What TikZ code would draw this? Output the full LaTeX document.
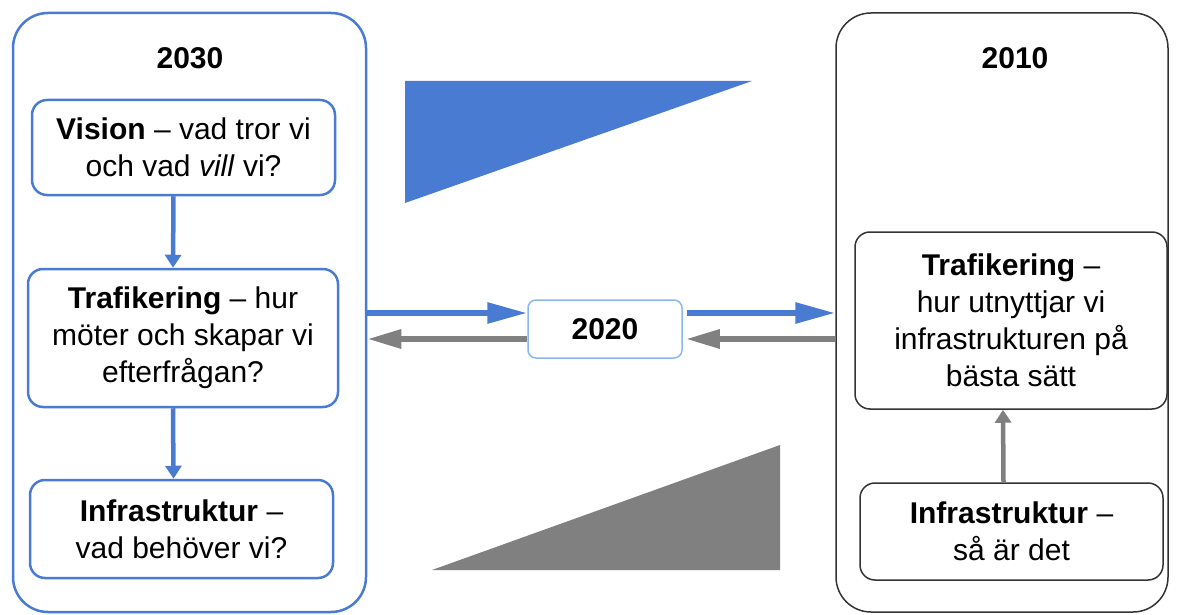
\documentclass[tikz,border=0pt]{standalone}
\usepackage{fontspec}
\setmainfont{Liberation Sans}
\usepackage{tikz}
\usetikzlibrary{arrows.meta}

\definecolor{planblue}{HTML}{4A7BD3}
\definecolor{lightblue}{HTML}{8AB8EE}
\definecolor{planggray}{HTML}{808080}
\definecolor{darkframe}{HTML}{333333}

\begin{document}
\begin{tikzpicture}[x=1pt,y=-1pt,
  txt/.style={font=\fontsize{30}{37}\selectfont,align=center,inner sep=0pt},
  bluebox/.style={txt,draw=planblue,line width=2.5pt,rounded corners=15pt},
  graybox/.style={txt,draw=darkframe,line width=1.5pt,rounded corners=15pt},
  bluearrow/.style={draw=planblue,line width=6pt,-{Triangle[length=40pt,width=20pt]}},
  grayarrow/.style={draw=planggray,line width=6pt,-{Triangle[length=34pt,width=18pt]}},
  downarrow/.style={line width=4.5pt,-{Triangle[length=13pt,width=16pt]}}]
  \useasboundingbox (0,0) rectangle (1181,615);

  %frames
  \node[draw=planblue,line width=2.5pt,rounded corners=35pt,minimum width=353pt,minimum height=599pt] (frame2030) at (189.5,312.5) {};
  \node[draw=darkframe,line width=1.5pt,rounded corners=35pt,minimum width=332pt,minimum height=599pt] (frame2010) at (1002,312.5) {};
  \node[txt,font=\fontsize{30}{37}\selectfont\bfseries] (year2030) at (190,58) {2030};
  \node[txt,font=\fontsize{30}{37}\selectfont\bfseries] (year2010) at (1015,58) {2010};

  %boxes
  \node[bluebox,minimum width=303pt,minimum height=95pt] (vision) at (183.5,147.5)
    {\textbf{Vision} – vad tror vi\\och vad \textit{vill} vi?};
  \node[bluebox,minimum width=310pt,minimum height=138pt] (traf2030) at (183,338)
    {\textbf{Trafikering} – hur\\möter och skapar vi\\efterfrågan?};
  \node[bluebox,minimum width=303pt,minimum height=98pt] (infra2030) at (181.5,529)
    {\textbf{Infrastruktur} –\\vad behöver vi?};
  \node[graybox,minimum width=312pt,minimum height=177pt] (traf2010) at (1011,320.5)
    {\textbf{Trafikering} –\\hur utnyttjar vi\\infrastrukturen på\\bästa sätt};
  \node[graybox,minimum width=303pt,minimum height=97pt] (infra2010) at (1011.5,531.5)
    {\textbf{Infrastruktur} –\\så är det};
  \node[txt,font=\fontsize{30}{37}\selectfont\bfseries,draw=lightblue,line width=1.5pt,rounded corners=8pt,
    minimum width=154pt,minimum height=58pt] (mid2020) at (605,329) {2020};

  %arrows
  \draw[downarrow,planblue] ([xshift=-10pt]vision.south) -- ([xshift=-10pt]traf2030.north);
  \draw[downarrow,planblue] ([xshift=-10pt]traf2030.south) -- ([xshift=-8pt]infra2030.north);
  \draw[downarrow,planggray] ([xshift=-8pt]infra2010.north) -- ([xshift=-8pt]traf2010.south);
  \draw[bluearrow] ([yshift=16pt]mid2020.west -| frame2030.east) -- ([yshift=16pt]mid2020.west);
  \draw[grayarrow] ([yshift=-10pt]mid2020.west) -- ([yshift=-10pt]mid2020.west -| frame2030.east);
  \draw[bluearrow] ([xshift=4pt,yshift=16pt]mid2020.east) -- ([yshift=16pt]mid2020.east -| frame2010.west);
  \draw[grayarrow] ([yshift=-10pt]mid2020.east -| frame2010.west) -- ([xshift=3pt,yshift=-10pt]mid2020.east);

  %triangles
  \fill[planblue] (405,81) -- (752,81) -- (405,203) -- cycle;
  \fill[planggray] (432,570) -- (780,445) -- (780,570) -- cycle;
\end{tikzpicture}
\end{document}
